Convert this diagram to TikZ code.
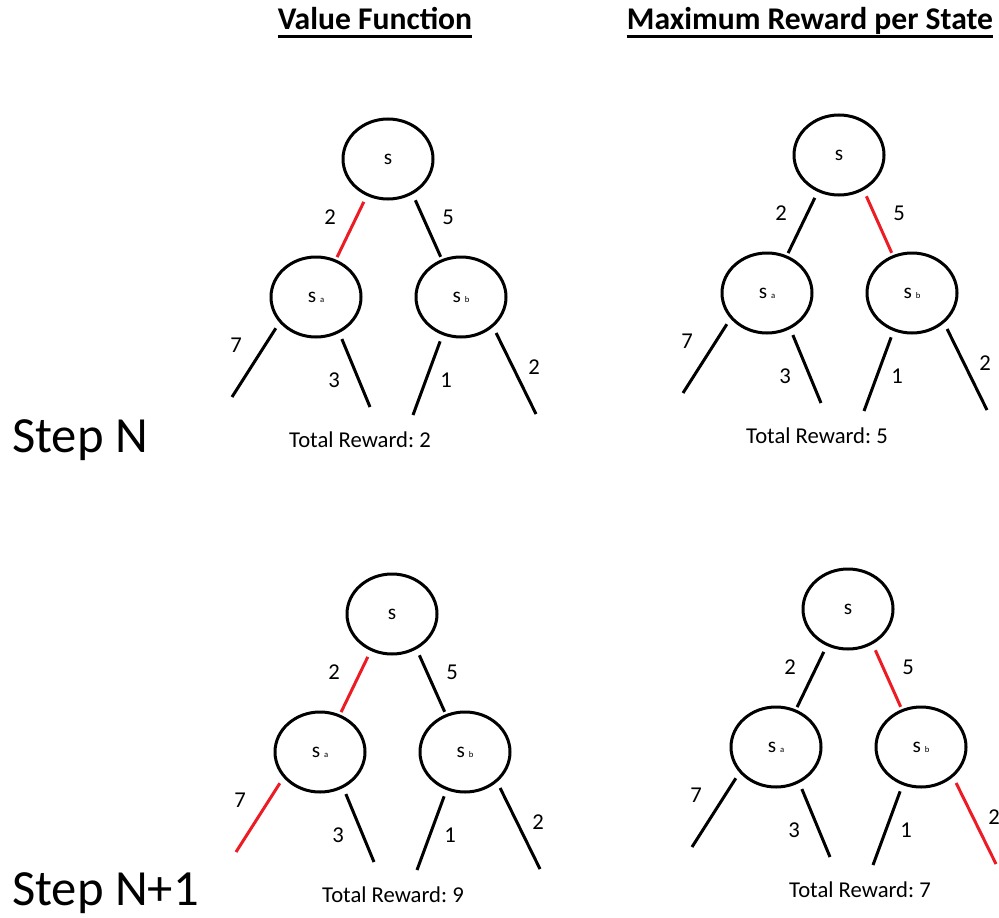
\documentclass[tikz,border=0pt]{standalone}
\usepackage{fontspec}
\setmainfont{Carlito}
\usetikzlibrary{calc}
\usetikzlibrary{shapes.geometric}
\definecolor{paintred}{RGB}{237,28,36}
\tikzset{
  state/.style={draw, ellipse, line width=2.25pt, inner sep=0pt,
    minimum width=67.5pt, minimum height=60pt, font=\fontsize{16}{18}\selectfont},
  edge/.style={line width=2.25pt, shorten <=5pt},
  wlabel/.style={font=\fontsize{17}{20}\selectfont},
  heading/.style={inner sep=0pt, font=\bfseries\fontsize{23.7}{28}\selectfont},
  steplabel/.style={inner sep=0pt, font=\fontsize{38}{44}\selectfont},
}
\newcommand{\stname}[1]{s\hspace{3pt}{\fontsize{6.5}{7}\selectfont #1}}
\frenchspacing

\begin{document}
\begin{tikzpicture}[x=0.75pt, y=-0.75pt]
    \useasboundingbox (0,0) rectangle (999,917);

    % column headings
    \node[heading, anchor=base] (hv) at (375,30) {Value Function};
    \node[heading, anchor=base] (hm) at (810,30) {Maximum Reward per State};
    \draw[line width=2.25pt] ([yshift=-5pt]hv.base west) -- ([yshift=-5pt]hv.base east);
    \draw[line width=2.25pt] ([yshift=-5pt]hm.base west) -- ([yshift=-5pt]hm.base east);

    % row labels
    \node[steplabel, anchor=base west] (rn) at (12,452) {Step N};
    \node[steplabel, anchor=base west] (rn1) at (12,905) {Step N+1};

    % the four trees: root, colour of each edge, total
    \foreach \i/\px/\py/\ca/\cb/\cc/\cd/\ce/\cf/\tot/\tx in {
        1/388/159/paintred/black/black/black/black/black/2/-28,
        2/839/155/black/paintred/black/black/black/black/5/-22,
        3/392/614/paintred/black/paintred/black/black/black/9/1,
        4/848/609/black/paintred/black/black/black/paintred/7/12} {
      \node[state] (s\i) at (\px,\py) {s};
      \node[state] (sa\i) at ($(s\i)+(-72,138)$) {\stname{a}};
      \node[state] (sb\i) at ($(s\i)+(73,138)$) {\stname{b}};
      \coordinate (la\i) at ($(sa\i)+(-84,100)$);
      \coordinate (lb\i) at ($(sa\i)+(54,110)$);
      \coordinate (lc\i) at ($(sb\i)+(-48,118)$);
      \coordinate (ld\i) at ($(sb\i)+(75,117)$);
      \draw[edge, \ca, shorten >=2pt] (s\i.240) -- (sa\i.62);
      \draw[edge, \cb, shorten >=2pt] (s\i.305) -- (sb\i.117);
      \draw[edge, \cc] (sa\i.215) -- (la\i);
      \draw[edge, \cd] (sa\i.303) -- (lb\i);
      \draw[edge, \ce] (sb\i.244) -- (lc\i);
      \draw[edge, \cf] (sb\i.317) -- (ld\i);
      \node[wlabel] at ($(s\i)+(-58,58)$) {2};
      \node[wlabel] at ($(s\i)+(60,58)$) {5};
      \node[wlabel] at ($(sa\i)+(-80,48)$) {7};
      \node[wlabel] at ($(sa\i)+(18,83)$) {3};
      \node[wlabel] at ($(sb\i)+(-15,83)$) {1};
      \node[wlabel] at ($(sb\i)+(73,70)$) {2};
      \node[wlabel] (tr\i) at ($(s\i)+(\tx,281)$) {Total Reward: \tot};
    }
\end{tikzpicture}
\end{document}
